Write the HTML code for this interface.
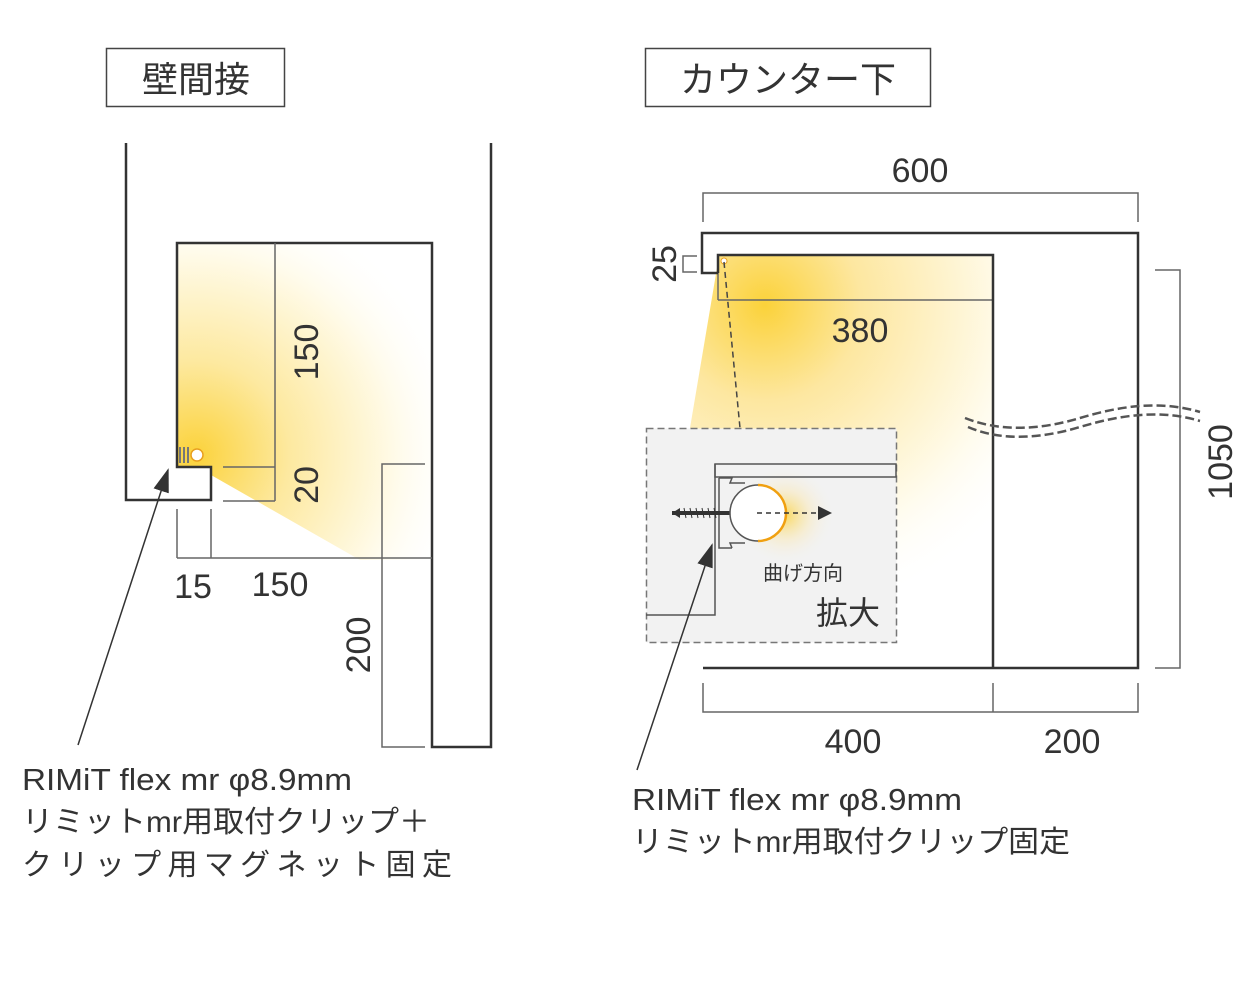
<!DOCTYPE html>
<html><head><meta charset="utf-8"><style>
html,body{margin:0;padding:0;background:#fff}
svg{display:block}
text{font-family:"Liberation Sans Narrow","Liberation Sans","Noto Sans CJK JP",sans-serif;fill:#333}
.j{font-family:"Liberation Sans","Noto Sans CJK JP",sans-serif}
</style></head><body>
<svg width="1242" height="998" viewBox="0 0 1242 998" xmlns="http://www.w3.org/2000/svg">
<defs>
<radialGradient id="gL" cx="195" cy="455" r="270" gradientUnits="userSpaceOnUse">
<stop offset="0" stop-color="#fbd23a"/><stop offset="0.35" stop-color="#fde9a0"/><stop offset="0.75" stop-color="#fffbea"/><stop offset="1" stop-color="#fff" stop-opacity="0"/>
</radialGradient>
<radialGradient id="gR" cx="765" cy="305" r="320" gradientUnits="userSpaceOnUse">
<stop offset="0" stop-color="#fbd23a"/><stop offset="0.3" stop-color="#fde7a0"/><stop offset="0.75" stop-color="#fffbeb"/><stop offset="1" stop-color="#fff" stop-opacity="0"/>
</radialGradient>
<radialGradient id="gZ" cx="785" cy="515" r="50" gradientUnits="userSpaceOnUse">
<stop offset="0" stop-color="#fbd23a" stop-opacity="0.8"/><stop offset="0.5" stop-color="#fbe6a8" stop-opacity="0.4"/><stop offset="1" stop-color="#f2f2f2" stop-opacity="0"/>
</radialGradient>
<marker id="ar" markerWidth="10" markerHeight="10" refX="9" refY="5" orient="auto" markerUnits="userSpaceOnUse" viewBox="0 0 10 10">
<path d="M0,0 L10,5 L0,10 Z" fill="#333"/></marker>
<marker id="ar2" markerWidth="24" markerHeight="16" refX="22" refY="8" orient="auto" markerUnits="userSpaceOnUse">
<path d="M0,0 L24,8 L0,16 Z" fill="#333"/></marker>
</defs>

<!-- LEFT -->
<rect x="106.5" y="48.5" width="178" height="58" fill="none" stroke="#444" stroke-width="1.5"/>
<text class="j" x="196" y="92" font-size="36" text-anchor="middle">壁間接</text>

<polygon points="177,243 432,243 432,560 360,560 211,475 211,467 177,467" fill="url(#gL)"/>

<g fill="none" stroke="#333" stroke-width="2.5">
<polyline points="126,143 126,500 211,500 211,467 177,467 177,243 432,243 432,747 491,747 491,143"/>
</g>
<g fill="none" stroke="#666" stroke-width="1.5">
<line x1="275" y1="243" x2="275" y2="501"/>
<line x1="223" y1="467" x2="275" y2="467"/>
<line x1="223" y1="501" x2="275" y2="501"/>
<line x1="177" y1="509" x2="177" y2="558"/>
<line x1="211" y1="509" x2="211" y2="558"/>
<line x1="177" y1="558" x2="432" y2="558"/>
<polyline points="425,464 382,464 382,747 425,747"/>
</g>
<g fill="#777"><rect x="179" y="447" width="2" height="16"/><rect x="183" y="447" width="2" height="16"/><rect x="187" y="447" width="2" height="16"/></g>
<circle cx="197" cy="455" r="6" fill="#fff" stroke="#e8a020" stroke-width="1.5"/>

<text x="0" y="0" font-size="34" transform="translate(318,352) rotate(-90)" text-anchor="middle">150</text>
<text x="0" y="0" font-size="34" transform="translate(318,485) rotate(-90)" text-anchor="middle">20</text>
<text x="193" y="598" font-size="34" text-anchor="middle">15</text>
<text x="280" y="596" font-size="34" text-anchor="middle">150</text>
<text x="0" y="0" font-size="34" transform="translate(370,645) rotate(-90)" text-anchor="middle">200</text>

<line x1="78" y1="745" x2="168" y2="470" stroke="#333" stroke-width="1.5" marker-end="url(#ar2)"/>

<text x="22" y="790" font-size="31" textLength="330" lengthAdjust="spacingAndGlyphs">RIMiT flex mr φ8.9mm</text>
<text class="j" x="22" y="832" font-size="30" textLength="408" lengthAdjust="spacingAndGlyphs">リミットmr用取付クリップ＋</text>
<text class="j" x="22" y="875" font-size="30" textLength="430" lengthAdjust="spacing">クリップ用マグネット固定</text>

<!-- RIGHT -->
<rect x="645.5" y="48.5" width="285" height="58" fill="none" stroke="#444" stroke-width="1.5"/>
<text class="j" x="788" y="92" font-size="36" text-anchor="middle">カウンター下</text>

<g fill="none" stroke="#666" stroke-width="1.5">
<polyline points="703,222 703,193 1138,193 1138,222"/>
<polyline points="1155,270 1180,270 1180,668 1155,668"/>
<polyline points="703,683 703,712 1138,712 1138,683"/>
<line x1="993" y1="683" x2="993" y2="712"/>
<polyline points="697,256 683,256 683,272 697,272"/>
</g>
<text x="920" y="182" font-size="34" text-anchor="middle">600</text>
<text x="0" y="0" font-size="34" transform="translate(676,264) rotate(-90)" text-anchor="middle">25</text>
<text x="0" y="0" font-size="34" transform="translate(1232,462) rotate(-90)" text-anchor="middle">1050</text>
<text x="853" y="753" font-size="34" text-anchor="middle">400</text>
<text x="1072" y="753" font-size="34" text-anchor="middle">200</text>

<polygon points="719,256 993,256 993,660 690,428" fill="url(#gR)"/>
<line x1="718" y1="300" x2="993" y2="300" stroke="#666" stroke-width="1.5"/>
<line x1="718" y1="254" x2="718" y2="300" stroke="#666" stroke-width="1.5"/>
<g fill="none" stroke="#333" stroke-width="2.5">
<polyline points="718,273 702,273 702,233 1138,233 1138,668 703,668"/>
<polyline points="718,273 718,255 993,255 993,668"/>
</g>
<text x="860" y="342" font-size="34" text-anchor="middle">380</text>

<g fill="none" stroke="#555" stroke-width="2.5" stroke-dasharray="9,4">
<path d="M965,418 C1000,432 1040,430 1080,418 S1160,400 1200,412"/>
<path d="M968,427 C1000,441 1040,439 1080,427 S1160,409 1200,421"/>
</g>

<circle cx="724" cy="261" r="3" fill="#fff" stroke="#e8a020"/>
<line x1="724" y1="262" x2="740" y2="428" stroke="#444" stroke-width="1.5" stroke-dasharray="6,4"/>

<rect x="646.5" y="428.5" width="250" height="214" fill="#f2f2f2" stroke="#777" stroke-width="1.5" stroke-dasharray="7,4"/>
<circle cx="785" cy="515" r="50" fill="url(#gZ)"/>
<g fill="none" stroke="#555" stroke-width="1.5">
<rect x="715" y="464" width="181" height="13"/>
<polyline points="646,615 715,615 715,464"/>
<path d="M719,478 L732,478 L730,483 L745,483 M719,478 L719,548 L732,548 M732,548 L730,543 L745,543"/>
</g>
<line x1="672" y1="513" x2="730" y2="513" stroke="#333" stroke-width="4"/>
<path d="M672,513 L680,508 L680,518 Z" fill="#333"/>
<g stroke="#333" stroke-width="1"><path d="M684,508 L686,518 M690,508 L692,518 M696,508 L698,518 M702,508 L704,518 M708,508 L710,518 M714,508 L716,518"/></g>
<circle cx="758" cy="513" r="28" fill="#fff" stroke="#555" stroke-width="1.5"/>
<path d="M758,485 A28,28 0 0 1 758,541" fill="none" stroke="#f0a010" stroke-width="2.5"/>
<line x1="757" y1="513" x2="830" y2="513" stroke="#333" stroke-width="1.5" stroke-dasharray="5,4" marker-end="url(#ar)"/>
<path d="M818,506 L832,513 L818,520 Z" fill="#333"/>
<text class="j" x="803" y="580" font-size="20" text-anchor="middle">曲げ方向</text>
<text class="j" x="848" y="624" font-size="32" text-anchor="middle">拡大</text>

<line x1="637" y1="770" x2="712" y2="545" stroke="#333" stroke-width="1.5" marker-end="url(#ar2)"/>

<text x="632" y="810" font-size="31" textLength="330" lengthAdjust="spacingAndGlyphs">RIMiT flex mr φ8.9mm</text>
<text class="j" x="632" y="852" font-size="30" textLength="438" lengthAdjust="spacingAndGlyphs">リミットmr用取付クリップ固定</text>
</svg>
</body></html>
